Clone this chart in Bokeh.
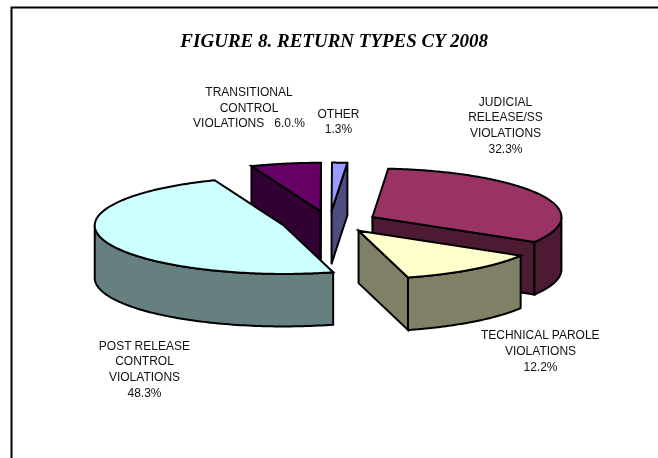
import numpy as np
from bokeh.plotting import figure
from bokeh.models import ColumnDataSource, Range1d
from bokeh.core.properties import value
from bokeh.embed import file_html
from bokeh.resources import INLINE

title = "FIGURE 8. RETURN TYPES CY 2008"
categories = ["JUDICIAL RELEASE/SS VIOLATIONS", "TECHNICAL PAROLE VIOLATIONS",
              "POST RELEASE CONTROL VIOLATIONS", "TRANSITIONAL CONTROL VIOLATIONS", "OTHER"]
shares = [32.3, 12.2, 48.3, 6.0, 1.3]
top_colors = ["#993366", "#FFFFCC", "#CCFFFF", "#660066", "#9999FF"]
side_colors = ["#4D1A33", "#808066", "#668080", "#330033", "#4D4D80"]
paint_order = [4, 3, 0, 1, 2]

label_lines = [
    ["JUDICIAL", "RELEASE/SS", "VIOLATIONS", "32.3%"],
    ["TECHNICAL PAROLE", "VIOLATIONS", "12.2%"],
    ["POST RELEASE", "CONTROL", "VIOLATIONS", "48.3%"],
    ["TRANSITIONAL", "CONTROL", "VIOLATIONS\u00a0\u00a0\u00a06.0.%"],
    ["OTHER", "1.3%"],
]
label_x = [505, 540, 144, 248.5, 338]
label_y = [[101, 116, 132, 148], [334, 350, 366], [345, 360, 376, 392], [91, 107, 122], [113, 128]]

W, H = 658, 458
cx0, cy0 = 329.0, 221.5
a, b = 189.0, 48.5
depth = 52.5
ex, ey = 48.2, 10.9
start = 4.8

p = figure(width=W, height=H, x_range=Range1d(0, W), y_range=Range1d(H, 0),
           output_backend="svg", toolbar_location=None, min_border=0,
           outline_line_color=None, x_axis_type=None, y_axis_type=None)
p.grid.visible = False
p.styles = {"position": "fixed", "left": "0", "top": "0"}

# frame: left and top only
p.line(x=[11, 11, W], y=[H, 7, 7], line_color="black", line_width=2, line_join="miter")

frac = np.array(shares) / sum(shares) * 360.0
ends = start + np.cumsum(frac)
starts = ends - frac


def pt(cx, cy, t, dz=0.0):
    r = np.radians(t)
    return cx + a * np.sin(r), cy - b * np.cos(r) + dz


def polys_for(i):
    out = []
    ts, te = starts[i], ends[i]
    tm = np.radians((ts + te) / 2)
    cx = cx0 + ex * np.sin(tm)
    cy = cy0 - ey * np.cos(tm)
    if np.sin(np.radians(ts)) < -1e-6:  # start wall faces the viewer
        ox, oy = pt(cx, cy, ts)
        out.append(([(cx, cy), (ox, oy), (ox, oy + depth), (cx, cy + depth)], side_colors[i]))
    if np.sin(np.radians(te)) > 1e-6:  # end wall faces the viewer
        ox, oy = pt(cx, cy, te)
        out.append(([(cx, cy), (ox, oy), (ox, oy + depth), (cx, cy + depth)], side_colors[i]))
    lo, hi = max(ts, 90), min(te, 270)
    if hi > lo:  # curved wall
        tt = np.linspace(lo, hi, 90)
        out.append(([pt(cx, cy, t) for t in tt] + [pt(cx, cy, t, depth) for t in tt[::-1]], side_colors[i]))
    tt = np.linspace(ts, te, 180)
    out.append(([(cx, cy)] + [pt(cx, cy, t) for t in tt], top_colors[i]))
    return out


for group, join in (([paint_order[0]], "round"), (paint_order[1:], "miter")):
    items = [it for i in group for it in polys_for(i)]
    src = ColumnDataSource(dict(
        xs=[[q[0] for q in poly] for poly, _ in items],
        ys=[[q[1] for q in poly] for poly, _ in items],
        fill=[c for _, c in items]))
    p.patches("xs", "ys", source=src, fill_color="fill", line_color="black",
              line_width=2, line_join=join)

tx, ty, tt = [], [], []
for lines, x, yy in zip(label_lines, label_x, label_y):
    for s, y in zip(lines, yy):
        tx.append(x); ty.append(y); tt.append(s)
p.text(x=tx, y=ty, text=tt, text_font=value("Liberation Sans"), text_font_size="12px",
       text_align="center", text_baseline="middle", text_color="#111111")
p.text(x=[334], y=[40], text=[title], text_font=value("Liberation Serif"),
       text_font_style="bold italic", text_font_size="19px",
       text_align="center", text_baseline="middle", text_color="black")

open("out.html", "w").write(file_html(p, INLINE))
